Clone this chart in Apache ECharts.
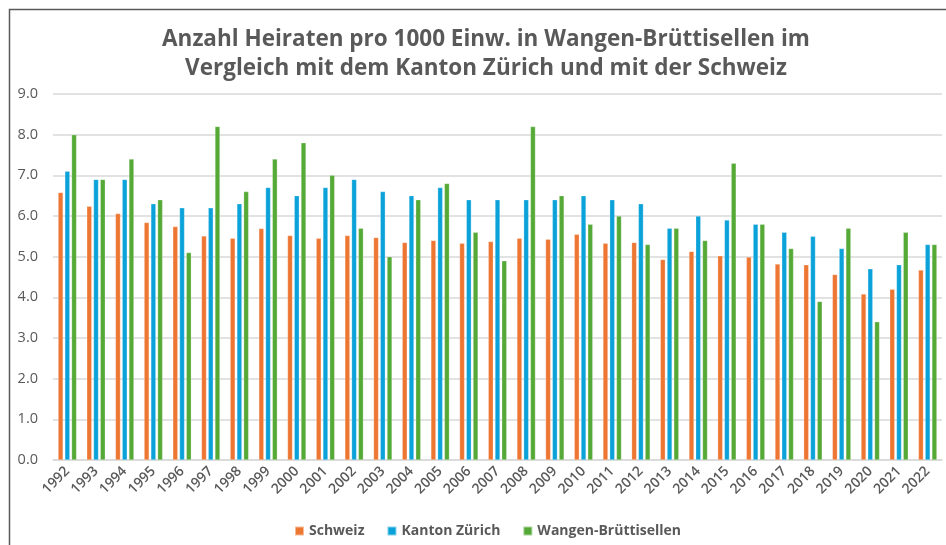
<!DOCTYPE html>
<html>
<head>
<meta charset="utf-8">
<script src="https://cdn.jsdelivr.net/npm/echarts@6/dist/echarts.min.js"></script>
<style>
  html, body { margin: 0; padding: 0; background: #fff; }
  #chart { width: 946px; height: 545px; }
</style>
</head>
<body>
<div id="chart"></div>
<script>
// Jahre
var years = ["1992","1993","1994","1995","1996","1997","1998","1999","2000","2001",
  "2002","2003","2004","2005","2006","2007","2008","2009","2010","2011",
  "2012","2013","2014","2015","2016","2017","2018","2019","2020","2021","2022"];

var schweiz = [6.58, 6.24, 6.06, 5.84, 5.74, 5.51, 5.45, 5.69, 5.52, 5.45,
  5.52, 5.47, 5.35, 5.40, 5.33, 5.37, 5.45, 5.43, 5.55, 5.33,
  5.35, 4.93, 5.13, 5.02, 4.99, 4.82, 4.80, 4.56, 4.08, 4.20, 4.67];

var kantonZuerich = [7.1, 6.9, 6.9, 6.3, 6.2, 6.2, 6.3, 6.7, 6.5, 6.7,
  6.9, 6.6, 6.5, 6.7, 6.4, 6.4, 6.4, 6.4, 6.5, 6.4,
  6.3, 5.7, 6.0, 5.9, 5.8, 5.6, 5.5, 5.2, 4.7, 4.8, 5.3];

var wangen = [8.0, 6.9, 7.4, 6.4, 5.1, 8.2, 6.6, 7.4, 7.8, 7.0,
  5.7, 5.0, 6.4, 6.8, 5.6, 4.9, 8.2, 6.5, 5.8, 6.0,
  5.3, 5.7, 5.4, 7.3, 5.8, 5.2, 3.9, 5.7, 3.4, 5.6, 5.3];

var seriesNames = ["Schweiz", "Kanton Zürich", "Wangen-Brüttisellen"];
var colors = ["#ED7632", "#0AA2D9", "#55A936"];

var chart = echarts.init(document.getElementById("chart"));
var font = "Open Sans";

function bar(name, data, color) {
  return {
    name: name,
    type: "bar",
    data: data,
    barWidth: 5,
    barGap: "35%",
    itemStyle: { color: color, borderColor: "rgba(255,255,255,0.5)", borderWidth: 0.5 }
  };
}

var option = {
  backgroundColor: "#fff",
  animation: false,
  color: colors,
  title: {
    text: "Anzahl Heiraten pro 1000 Einw. in Wangen-Brüttisellen im\nVergleich mit dem Kanton Zürich und mit der Schweiz",
    left: 481,
    textAlign: "center",
    top: 20,
    textStyle: {
      fontFamily: font,
      fontSize: 22.5,
      fontWeight: "bold",
      color: "#595959",
      lineHeight: 29
    }
  },
  legend: {
    bottom: 2,
    left: 289,
    itemWidth: 9,
    itemHeight: 9,
    itemGap: 22,
    icon: "rect",
    textStyle: { fontFamily: font, fontSize: 14, fontWeight: "bold", color: "#595959" },
    data: seriesNames
  },
  grid: { left: 53, right: 4, top: 94, bottom: 85 },
  xAxis: {
    type: "category",
    data: years,
    axisLine: { lineStyle: { color: "#D9D9D9", width: 1.5 } },
    axisTick: { show: false },
    axisLabel: {
      interval: 0,
      rotate: 45,
      margin: 9,
      fontFamily: font,
      fontSize: 14,
      fontWeight: 600,
      color: "#595959"
    }
  },
  yAxis: {
    type: "value",
    min: 0,
    max: 9,
    interval: 1,
    axisLine: { show: false },
    axisTick: { show: false },
    splitLine: { lineStyle: { color: "#D9D9D9", width: 1.5 } },
    axisLabel: {
      margin: 15,
      fontFamily: font,
      fontSize: 14.5,
      color: "#595959",
      formatter: function (v) { return v.toFixed(1); }
    }
  },
  graphic: [{
    type: "rect",
    shape: { x: 9.5, y: 9.5, width: 960, height: 560 },
    style: { fill: null, stroke: "#595959", lineWidth: 1.5 },
    silent: true
  }],
  series: [
    bar(seriesNames[0], schweiz, colors[0]),
    bar(seriesNames[1], kantonZuerich, colors[1]),
    bar(seriesNames[2], wangen, colors[2])
  ]
};

chart.setOption(option);
</script>
</body>
</html>
